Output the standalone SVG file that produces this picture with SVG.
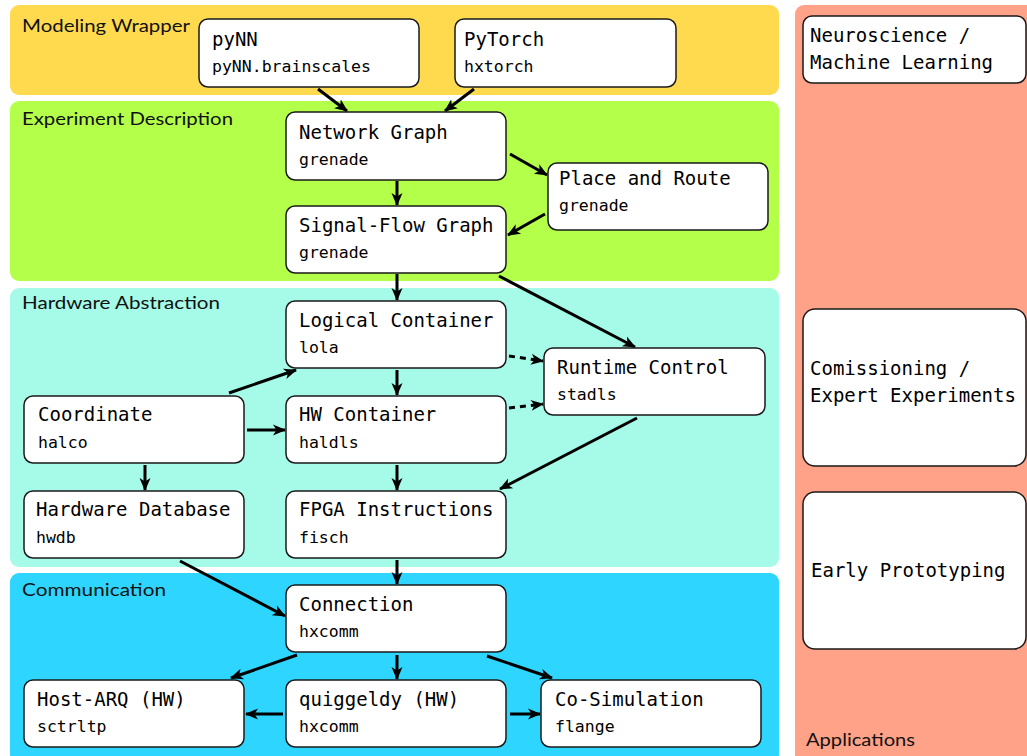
<svg xmlns="http://www.w3.org/2000/svg" width="1027" height="756" viewBox="0 0 1027 756">
<style>
.band-label{font-family:Lato,"Open Sans",sans-serif;font-size:18px;fill:#111}
.node rect{fill:#fff;stroke:#1a1a1a;stroke-width:1.5}
.t{font-family:"DejaVu Sans Mono","Liberation Mono",monospace;font-size:19px;fill:#000}
.s{font-family:"DejaVu Sans Mono","Liberation Mono",monospace;font-size:16.5px;fill:#000}
.edge{stroke:#000;stroke-width:3;fill:none;marker-end:url(#arr)}
.dash{stroke-dasharray:6 5}
</style>
<defs>
<marker id="arr" markerUnits="userSpaceOnUse" markerWidth="14" markerHeight="14" viewBox="0 0 14 14" refX="12" refY="7" orient="auto">
<path d="M0,1.5 L13,7 L0,12.5 L3.5,7 z" fill="#000"/>
</marker>
</defs>
<g id="bands">
<rect x="10" y="5" width="769" height="90" rx="9" fill="#FFDA4F"/>
<rect x="10" y="101" width="769" height="180" rx="9" fill="#B3FF4A"/>
<rect x="10" y="288" width="769" height="279" rx="9" fill="#A5FAE8"/>
<rect x="10" y="573" width="769" height="190" rx="9" fill="#2ED6FF"/>
<rect x="795" y="5" width="240" height="760" rx="9" fill="#FFA288"/>
<text class="band-label" x="22" y="32" textLength="168" lengthAdjust="spacingAndGlyphs">Modeling Wrapper</text>
<text class="band-label" x="22" y="125" textLength="211" lengthAdjust="spacingAndGlyphs">Experiment Description</text>
<text class="band-label" x="22" y="309" textLength="198" lengthAdjust="spacingAndGlyphs">Hardware Abstraction</text>
<text class="band-label" x="22" y="596" textLength="144" lengthAdjust="spacingAndGlyphs">Communication</text>
<text class="band-label" x="806" y="746" textLength="109" lengthAdjust="spacingAndGlyphs">Applications</text>
</g>
<g id="edges">
<line class="edge" x1="318" y1="89" x2="347" y2="111"/>
<line class="edge" x1="474" y1="89" x2="445" y2="111"/>
<line class="edge" x1="397" y1="181" x2="397" y2="205"/>
<line class="edge" x1="510" y1="154" x2="547" y2="175"/>
<line class="edge" x1="545" y1="214" x2="508" y2="235"/>
<line class="edge" x1="397" y1="274" x2="397" y2="300"/>
<line class="edge" x1="499" y1="276" x2="635" y2="347"/>
<line class="edge" x1="397" y1="370" x2="397" y2="395"/>
<line class="edge dash" x1="509" y1="356" x2="543" y2="361"/>
<line class="edge dash" x1="509" y1="408" x2="543" y2="404"/>
<line class="edge" x1="229" y1="393" x2="296" y2="370"/>
<line class="edge" x1="247" y1="430" x2="285" y2="430"/>
<line class="edge" x1="145" y1="465" x2="145" y2="490"/>
<line class="edge" x1="397" y1="465" x2="397" y2="490"/>
<line class="edge" x1="637" y1="418" x2="500" y2="489"/>
<line class="edge" x1="397" y1="560" x2="397" y2="584"/>
<line class="edge" x1="180" y1="561" x2="285" y2="616"/>
<line class="edge" x1="297" y1="655" x2="231" y2="678"/>
<line class="edge" x1="397" y1="655" x2="397" y2="679"/>
<line class="edge" x1="487" y1="656" x2="552" y2="678"/>
<line class="edge" x1="283" y1="714" x2="246" y2="714"/>
<line class="edge" x1="510" y1="714" x2="540" y2="714"/>
</g>
<g id="n-pynn" class="node"><rect x="199" y="19" width="220" height="68" rx="9"/><text class="t" x="212" y="46">pyNN</text><text class="s" x="212" y="72">pyNN.brainscales</text></g>
<g id="n-pytorch" class="node"><rect x="455" y="19" width="221" height="68" rx="9"/><text class="t" x="464" y="46">PyTorch</text><text class="s" x="464" y="72">hxtorch</text></g>
<g id="n-network" class="node"><rect x="286" y="112" width="220" height="68" rx="9"/><text class="t" x="299" y="139">Network Graph</text><text class="s" x="299" y="165">grenade</text></g>
<g id="n-place" class="node"><rect x="548" y="163" width="220" height="67" rx="9"/><text class="t" x="559" y="185">Place and Route</text><text class="s" x="559" y="211">grenade</text></g>
<g id="n-signal" class="node"><rect x="286" y="206" width="220" height="67" rx="9"/><text class="t" x="299" y="232">Signal-Flow Graph</text><text class="s" x="299" y="258">grenade</text></g>
<g id="n-logical" class="node"><rect x="286" y="301" width="220" height="67" rx="9"/><text class="t" x="299" y="327">Logical Container</text><text class="s" x="299" y="353">lola</text></g>
<g id="n-runtime" class="node"><rect x="544" y="348" width="221" height="67" rx="9"/><text class="t" x="557" y="374">Runtime Control</text><text class="s" x="557" y="400">stadls</text></g>
<g id="n-coord" class="node"><rect x="24" y="396" width="220" height="67" rx="9"/><text class="t" x="38" y="421">Coordinate</text><text class="s" x="38" y="448">halco</text></g>
<g id="n-hw" class="node"><rect x="286" y="396" width="220" height="67" rx="9"/><text class="t" x="299" y="421">HW Container</text><text class="s" x="299" y="448">haldls</text></g>
<g id="n-hwdb" class="node"><rect x="24" y="491" width="220" height="67" rx="9"/><text class="t" x="36" y="516">Hardware Database</text><text class="s" x="36" y="543">hwdb</text></g>
<g id="n-fpga" class="node"><rect x="286" y="491" width="220" height="67" rx="9"/><text class="t" x="299" y="516">FPGA Instructions</text><text class="s" x="299" y="543">fisch</text></g>
<g id="n-conn" class="node"><rect x="286" y="585" width="220" height="67" rx="9"/><text class="t" x="299" y="611">Connection</text><text class="s" x="299" y="637">hxcomm</text></g>
<g id="n-hostarq" class="node"><rect x="24" y="680" width="220" height="67" rx="9"/><text class="t" x="37" y="706">Host-ARQ (HW)</text><text class="s" x="37" y="732">sctrltp</text></g>
<g id="n-quiggeldy" class="node"><rect x="286" y="680" width="220" height="67" rx="9"/><text class="t" x="299" y="706">quiggeldy (HW)</text><text class="s" x="299" y="732">hxcomm</text></g>
<g id="n-cosim" class="node"><rect x="541" y="680" width="220" height="67" rx="9"/><text class="t" x="555" y="706">Co-Simulation</text><text class="s" x="555" y="732">flange</text></g>
<g id="n-neuro" class="node"><rect x="803" y="16" width="223" height="67" rx="9"/><text class="t" x="810" y="42">Neuroscience /</text><text class="t" x="810" y="69">Machine Learning</text></g>
<g id="n-comission" class="node"><rect x="803" y="309" width="223" height="157" rx="12"/><text class="t" x="810" y="375">Comissioning /</text><text class="t" x="810" y="402">Expert Experiments</text></g>
<g id="n-early" class="node"><rect x="803" y="492" width="223" height="157" rx="12"/><text class="t" x="811" y="577">Early Prototyping</text></g>
</svg>
